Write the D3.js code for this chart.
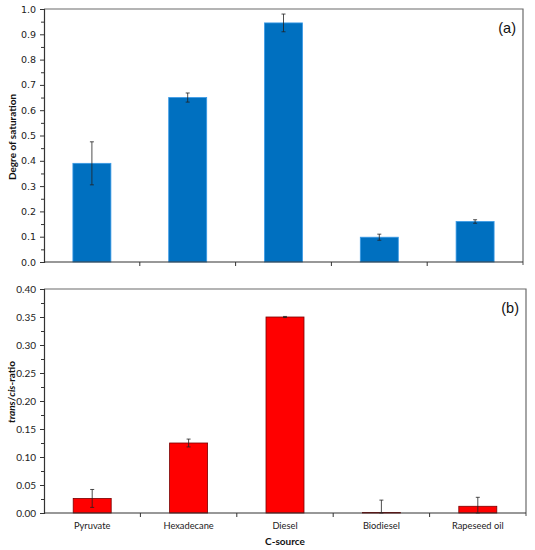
<!DOCTYPE html>
<html><head><meta charset="utf-8">
<script src="https://cdn.jsdelivr.net/npm/d3@7"></script>
<style>body{margin:0;background:#fff}</style>
</head><body>
<svg id="c" width="535" height="550"></svg>
<script>
const categories = ["Pyruvate","Hexadecane","Diesel","Biodiesel","Rapeseed oil"];
const saturation = [0.39, 0.65, 0.945, 0.098, 0.16];
const saturationErr = [0.085, 0.018, 0.035, 0.012, 0.007];
const transCis = [0.026, 0.125, 0.350, 0.001, 0.012];
const transCisErr = [0.016, 0.007, 0.001, 0.022, 0.016];
const ticksA = [0,0.1,0.2,0.3,0.4,0.5,0.6,0.7,0.8,0.9,1.0];
const ticksB = [0,0.05,0.10,0.15,0.20,0.25,0.30,0.35,0.40];

const svg = d3.select("#c");

function panel(o){
  const g = svg.append("g");
  const xb = d3.scaleBand().domain(categories).range([o.left,o.right]);
  const y = d3.scaleLinear().domain(o.domain).range([o.bottom,o.top]);
  const cx = i => xb(categories[i])+xb.bandwidth()/2;
  // frame top/right
  g.append("path").attr("d",`M${o.left},${o.top}H${o.right}V${o.bottom+3}`)
    .attr("fill","none").attr("stroke","#6b6b6b").attr("stroke-width",1.2);
  // bars
  g.selectAll("rect.bar").data(o.values).enter().append("rect")
    .attr("x",(d,i)=>cx(i)-19)
    .attr("width",38)
    .attr("y",d=>y(d)).attr("height",d=>y(0)-y(d))
    .attr("fill",o.fill).attr("stroke",o.stroke).attr("stroke-width",0.8);
  // error bars
  const eb = g.selectAll("g.err").data(o.values).enter().append("g");
  eb.append("line").attr("x1",(d,i)=>cx(i)).attr("x2",(d,i)=>cx(i))
    .attr("y1",(d,i)=>y(d+o.err[i])).attr("y2",(d,i)=>y(Math.max(0,d-o.err[i])))
    .attr("stroke","#222").attr("stroke-width",0.8);
  [1,-1].forEach(s=>{
    eb.append("line").attr("x1",(d,i)=>cx(i)-2).attr("x2",(d,i)=>cx(i)+2)
      .attr("y1",(d,i)=>y(Math.max(0,d+s*o.err[i]))).attr("y2",(d,i)=>y(Math.max(0,d+s*o.err[i])))
      .attr("stroke","#222").attr("stroke-width",0.8);
  });
  // y axis
  const ya = d3.axisLeft(y).tickValues(o.ticks).tickFormat(d3.format(o.fmt)).tickSize(4).tickPadding(4);
  const yg = g.append("g").attr("transform",`translate(${o.left},0)`).call(ya);
  yg.select(".domain").attr("stroke","#333").attr("stroke-width",1.2);
  yg.selectAll(".tick line").attr("stroke","#333");
  yg.selectAll("text").attr("font-family",o.tickFont).attr("font-size",o.tickSize).attr("fill","#222");
  const ym = d3.axisLeft(y).tickValues(o.minor).tickFormat("").tickSize(3);
  const ymg = g.append("g").attr("transform",`translate(${o.left},0)`).call(ym);
  ymg.select(".domain").remove(); ymg.selectAll(".tick line").attr("stroke","#333");
  // x axis
  const xg = g.append("g").attr("transform",`translate(0,${o.bottom})`);
  xg.append("line").attr("x1",o.left).attr("x2",o.right).attr("stroke","#333").attr("stroke-width",1.2);
  xg.selectAll("line.t").data(categories.slice(1)).enter().append("line")
    .attr("x1",d=>xb(d)).attr("x2",d=>xb(d)).attr("y1",0).attr("y2",4).attr("stroke","#333");
  if(o.labels){
    xg.selectAll("text").data(categories).enter().append("text")
      .attr("x",d=>xb(d)+xb.bandwidth()/2).attr("y",16).attr("text-anchor","middle")
      .attr("font-family","Lato, 'Open Sans', sans-serif").attr("font-size",9.3).attr("fill","#222").text(d=>d);
  }
  g.append("text").attr("x",o.right-7).attr("y",o.top+24).attr("text-anchor","end")
    .attr("font-family","Liberation Sans, Arial, sans-serif").attr("font-size",14.5).attr("fill","#111").text(o.tag);
  return {y};
}

panel({left:44,right:523,top:9,bottom:262,domain:[0,1],values:saturation,err:saturationErr,
  ticks:ticksA,minor:d3.range(0.05,1,0.1),fmt:".1f",fill:"#0070C0",stroke:"#3a9ae6",
  tickFont:"DejaVu Sans, sans-serif",tickSize:9.5,tag:"(a)",labels:false});
panel({left:44,right:526,top:289,bottom:513,domain:[0,0.4],values:transCis,err:transCisErr,
  ticks:ticksB,minor:d3.range(0.025,0.4,0.05),fmt:".2f",fill:"#FF0000",stroke:"#7a0000",
  tickFont:"Lato, 'Open Sans', sans-serif",tickSize:10,tag:"(b)",labels:true});

// y titles
svg.append("text").attr("transform","translate(16,137) rotate(-90)").attr("text-anchor","middle")
  .attr("font-family","Lato, 'Open Sans', sans-serif").attr("font-weight","bold").attr("font-size",10).attr("fill","#111")
  .text("Degre of saturation");
const t2 = svg.append("text").attr("transform","translate(15,392) rotate(-90)").attr("text-anchor","middle")
  .attr("font-family","Lato, 'Open Sans', sans-serif").attr("font-weight","bold").attr("font-size",10).attr("fill","#111");
t2.append("tspan").attr("font-style","italic").text("trans");
t2.append("tspan").text("/");
t2.append("tspan").attr("font-style","italic").text("cis");
t2.append("tspan").text("-ratio");
// x title
svg.append("text").attr("x",285).attr("y",545).attr("text-anchor","middle")
  .attr("font-family","Lato, 'Open Sans', sans-serif").attr("font-weight","bold").attr("font-size",10).attr("fill","#111")
  .text("C-source");
</script>
</body></html>
